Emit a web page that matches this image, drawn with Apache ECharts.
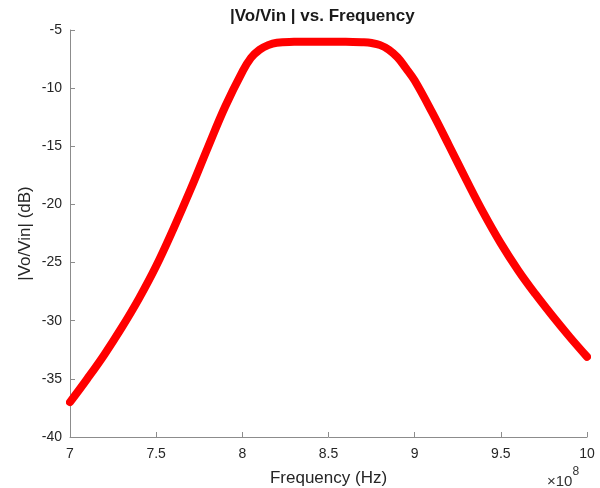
<!DOCTYPE html>
<html>
<head>
<meta charset="utf-8">
<script src="https://cdn.jsdelivr.net/npm/echarts@6/dist/echarts.min.js"></script>
<style>
  html, body { margin: 0; padding: 0; background: #fff; }
  #main { width: 600px; height: 488px; }
</style>
</head>
<body>
<div id="main"></div>
<script>
// frequency in units of 1e8 Hz
const freq = [7.0, 7.1, 7.2, 7.3, 7.4, 7.5, 7.6, 7.7, 7.8, 7.9, 8.0, 8.05, 8.1, 8.15, 8.2, 8.3, 8.4, 8.5, 8.6, 8.7, 8.75, 8.8, 8.85, 8.9, 8.95, 9.0, 9.1, 9.2, 9.3, 9.4, 9.5, 9.6, 9.7, 9.8, 9.9, 10.0];
const gainDb = [-37.0, -35.0, -32.9, -30.6, -28.1, -25.3, -22.1, -18.7, -15.1, -11.6, -8.6, -7.4, -6.7, -6.3, -6.1, -6.02, -6.0, -6.0, -6.0, -6.05, -6.12, -6.3, -6.7, -7.35, -8.3, -9.35, -12.05, -14.95, -17.9, -20.75, -23.35, -25.65, -27.7, -29.6, -31.4, -33.1];
const xTicks = { min: 7, max: 10, step: 0.5 };
const yTicks = { min: -40, max: -5, step: 5 };

const chart = echarts.init(document.getElementById("main"));
const font = "Liberation Sans, Arial, Helvetica, sans-serif";
const axisGray = "#8c8c8c";

chart.setOption({
  animation: false,
  backgroundColor: "#ffffff",
  grid: { left: 70, right: 13, top: 30, bottom: 51, outerBoundsMode: "none" },
  graphic: [
    {
      type: "text",
      left: 230, top: 8,
      style: { text: "|Vo/Vin | vs. Frequency", font: "bold 17px " + font, fill: "#1a1a1a" }
    },
    {
      type: "text",
      left: 547, top: 466,
      style: {
        text: "{a|\u00d710}{b|8}",
        rich: {
          a: { fontSize: 15, fontFamily: font, fill: "#333", padding: [8, 0, 0, 0] },
          b: { fontSize: 12, fontFamily: font, fill: "#333", verticalAlign: "top" }
        }
      }
    }
  ],
  xAxis: {
    type: "value",
    min: xTicks.min, max: xTicks.max, interval: xTicks.step,
    name: "Frequency (Hz)",
    nameLocation: "middle",
    nameGap: 33,
    nameMoveOverlap: false,
    nameTextStyle: { fontSize: 17, color: "#262626", fontFamily: font },
    axisLine: { show: true, lineStyle: { color: axisGray, width: 1 } },
    axisTick: { show: true, inside: true, length: 5, lineStyle: { color: axisGray } },
    axisLabel: { fontSize: 14, color: "#262626", fontFamily: font, margin: 10 },
    splitLine: { show: false }
  },
  yAxis: {
    type: "value",
    min: yTicks.min, max: yTicks.max, interval: yTicks.step,
    name: "|Vo/Vin| (dB)",
    nameLocation: "middle",
    nameGap: 36,
    nameMoveOverlap: false,
    nameTextStyle: { fontSize: 17, color: "#262626", fontFamily: font },
    axisLine: { show: true, lineStyle: { color: axisGray, width: 1 } },
    axisTick: { show: true, inside: true, length: 5, lineStyle: { color: axisGray } },
    axisLabel: { fontSize: 14, color: "#262626", fontFamily: font, margin: 8 },
    splitLine: { show: false }
  },
  series: [
    {
      type: "line",
      data: freq.map((f, i) => [f, gainDb[i]]),
      smooth: 0.4,
      showSymbol: false,
      lineStyle: { color: "#ff0000", width: 8, cap: "round", join: "round" }
    }
  ]
});
</script>
</body>
</html>
